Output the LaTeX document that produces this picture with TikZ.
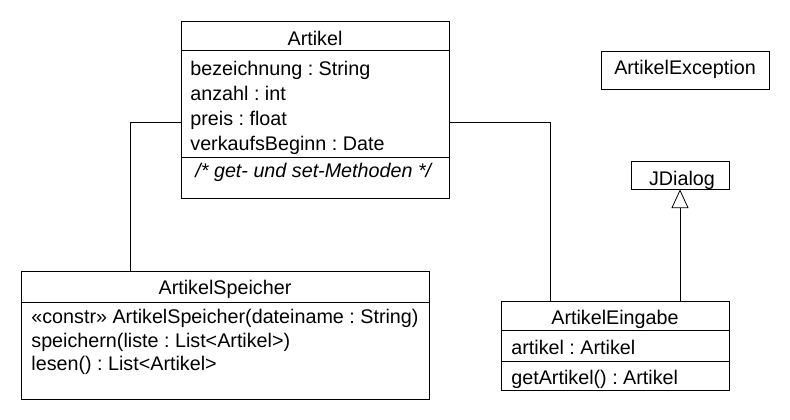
\documentclass[tikz,border=0pt]{standalone}
\usepackage{fontspec}
\setmainfont{Liberation Sans}
\usetikzlibrary{fit,arrows.meta}
\tikzset{
  compart/.style={draw, inner sep=0pt},
  zeile/.style={anchor=base west, inner sep=0pt},
  titel/.style={anchor=base, inner sep=0pt},
}
\frenchspacing
\begin{document}
\begin{tikzpicture}[x=0.75pt,y=-0.75pt, line width=0.6pt,
    font=\fontsize{14.8}{18}\selectfont]
  \useasboundingbox (0,0) rectangle (790,420);
  % Artikel
  \node[compart, fit={(181,21) (449,50)}] (artikelkopf) {};
  \node[compart, fit={(181,50) (449,157)}] (artikelattr) {};
  \node[compart, fit={(181,157) (449,198)}] (artikelmeth) {};
  \node[titel] (artikelname) at (315,46) {Artikel};
  \node[zeile] (a1) at (190,76) {bezeichnung : String};
  \node[zeile] (a2) at (190,101) {anzahl : int};
  \node[zeile] (a3) at (190,126) {preis : float};
  \node[zeile] (a4) at (190,151) {verkaufsBeginn : Date};
  \node[zeile] (m1) at (195,178) {\itshape /* get- und set-Methoden */};
  % ArtikelSpeicher
  \node[compart, fit={(21,271) (429,302)}] (speicherkopf) {};
  \node[compart, fit={(21,302) (429,399)}] (speichermeth) {};
  \node[titel] (speichername) at (225,295) {ArtikelSpeicher};
  \node[zeile] (s1) at (31,324) {«constr» ArtikelSpeicher(dateiname : String)};
  \node[zeile] (s2) at (31,348) {speichern(liste : List<Artikel>)};
  \node[zeile] (s3) at (31,371) {lesen() : List<Artikel>};
  % ArtikelEingabe
  \node[compart, fit={(501,301) (729,330)}] (eingabekopf) {};
  \node[compart, fit={(501,330) (729,361)}] (eingabeattr) {};
  \node[compart, fit={(501,361) (729,390)}] (eingabemeth) {};
  \node[titel] (eingabename) at (615,325) {ArtikelEingabe};
  \node[zeile] (e1) at (511,355) {artikel : Artikel};
  \node[zeile] (e2) at (511,385) {getArtikel() : Artikel};
  % ArtikelException, JDialog
  \node[compart, fit={(601,51) (769,89)}] (exception) {};
  \node[titel] (exceptionname) at (685,75) {ArtikelException};
  \node[compart, fit={(631,161) (729,189)}] (jdialog) {};
  \node[titel] (jdialogname) at (682,186) {JDialog};
  % Verbindungen
  \coordinate (knickl) at (130,122);
  \coordinate (knickr) at (550,122);
  \draw (knickl -| artikelkopf.west) -- (knickl) -- (knickl |- speicherkopf.north);
  \draw (knickr -| artikelkopf.east) -- (knickr) -- (knickr |- eingabekopf.north);
  \draw[-{Triangle[open,length=14pt,width=12.75pt]}] (eingabekopf.north -| jdialog.south) -- (jdialog.south);
\end{tikzpicture}
\end{document}
